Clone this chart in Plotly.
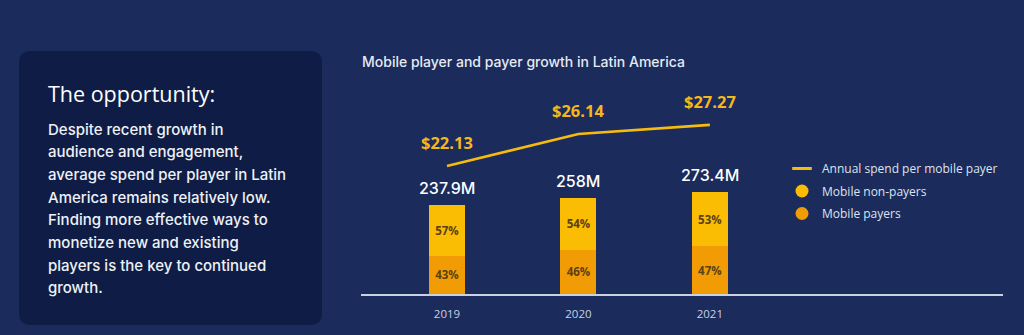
import plotly.graph_objects as go

# --- data -------------------------------------------------------------
years = ["2019", "2020", "2021"]
total_players_m = [237.9, 258.0, 273.4]          # mobile players, millions
non_payer_pct = [57, 54, 53]
payer_pct = [43, 46, 47]
annual_spend = [22.13, 26.14, 27.27]              # USD per mobile payer

title_text = "Mobile player and payer growth in Latin America"
panel_heading = "The opportunity:"
panel_lines = [
    "Despite recent growth in",
    "audience and engagement,",
    "average spend per player in Latin",
    "America remains relatively low.",
    "Finding more effective ways to",
    "monetize new and existing",
    "players is the key to continued",
    "growth.",
]

# --- styling ------------------------------------------------------------
BG = "#1a2b5c"
PANEL = "#0f1d46"
YELLOW = "#fbbc04"
ORANGE = "#f29c05"
LINE = "#f6bb0f"
GOLD_TEXT = "#f4b81c"
PCT_TEXT = "#5a4212"
FONT = "Open Sans"
MEDIUM = "Inter"

W, H = 1024, 335
ML, MR, MT, MB = 361, 21, 60, 41
plot_w = W - ML - MR
plot_h = H - MT - MB

x_pos = list(range(len(years)))
payers = [t * p / 100 for t, p in zip(total_players_m, payer_pct)]
non_payers = [t * p / 100 for t, p in zip(total_players_m, non_payer_pct)]


# helpers for placing things in pixel terms on the paper
def px_x(px):
    return (px - ML) / plot_w


def px_y(py):
    return (H - MB - py) / plot_h


fig = go.Figure()

pct_font = dict(family=FONT, size=11.5, color=PCT_TEXT, weight=700)
fig.add_trace(go.Bar(
    x=x_pos, y=payers, name="Mobile payers", marker=dict(color=ORANGE, line_width=0),
    width=0.274, text=[f"{p}%" for p in payer_pct], textposition="inside",
    insidetextanchor="middle", textangle=0, textfont=pct_font,
    showlegend=False, hoverinfo="skip",
))
fig.add_trace(go.Bar(
    x=x_pos, y=non_payers, name="Mobile non-payers", marker=dict(color=YELLOW, line_width=0),
    width=0.274, text=[f"{p}%" for p in non_payer_pct], textposition="inside",
    insidetextanchor="middle", textangle=0, textfont=pct_font,
    showlegend=False, hoverinfo="skip",
))
fig.add_trace(go.Scatter(
    x=x_pos, y=annual_spend, yaxis="y2", mode="lines",
    line=dict(color=LINE, width=2.6), showlegend=False, hoverinfo="skip",
))

# legend entries
fig.add_trace(go.Scatter(
    x=[None], y=[None], mode="markers", name="Annual spend per mobile payer",
    legendgroup="spend",
    marker=dict(symbol="line-ew-open", size=14, color=LINE, line=dict(color=LINE, width=3)),
))
fig.add_trace(go.Scatter(
    x=[None], y=[None], mode="markers", name="Mobile non-payers",
    legendgroup="nonpayers",
    marker=dict(symbol="circle", size=13, color=YELLOW),
))
fig.add_trace(go.Scatter(
    x=[None], y=[None], mode="markers", name="Mobile payers",
    legendgroup="payers",
    marker=dict(symbol="circle", size=13, color=ORANGE),
))

annotations = []
for i, (tot, sp) in enumerate(zip(total_players_m, annual_spend)):
    annotations.append(dict(
        x=i, y=tot, xref="x", yref="y", text=f"{tot:g}M", showarrow=False,
        yanchor="bottom", yshift=5,
        font=dict(family=MEDIUM, size=16, color="#ffffff", weight=500),
    ))
    annotations.append(dict(
        x=i, y=sp, xref="x", yref="y2", text=f"${sp:.2f}", showarrow=False,
        yanchor="bottom", yshift=10,
        font=dict(family=FONT, size=16.5, color=GOLD_TEXT, weight=700),
    ))

annotations.append(dict(
    x=px_x(360), y=px_y(61), xref="paper", yref="paper", text=title_text,
    showarrow=False, xanchor="left", yanchor="middle",
    font=dict(family=MEDIUM, size=14, color="#e6eaf2", weight=500),
))
annotations.append(dict(
    x=px_x(46), y=px_y(93), xref="paper", yref="paper", text=panel_heading,
    showarrow=False, xanchor="left", yanchor="middle",
    font=dict(family=FONT, size=21.5, color="#ffffff"),
))
for k, line in enumerate(panel_lines):
    annotations.append(dict(
        x=px_x(46), y=px_y(129 + k * 22.7), xref="paper", yref="paper", text=line,
        showarrow=False, xanchor="left", yanchor="middle",
        font=dict(family=MEDIUM, size=15, color="#eef1f6", weight=500),
    ))

# rounded panel behind the description text
x0, x1, y0, y1, r = 19, 322, 51, 325, 12


def P(px, py):
    return f"{px_x(px):.5f},{px_y(py):.5f}"


panel_path = (
    f"M {P(x0 + r, y0)} L {P(x1 - r, y0)} Q {P(x1, y0)} {P(x1, y0 + r)} "
    f"L {P(x1, y1 - r)} Q {P(x1, y1)} {P(x1 - r, y1)} "
    f"L {P(x0 + r, y1)} Q {P(x0, y1)} {P(x0, y1 - r)} "
    f"L {P(x0, y0 + r)} Q {P(x0, y0)} {P(x0 + r, y0)} Z"
)

fig.update_layout(
    width=W, height=H,
    margin=dict(l=ML, r=MR, t=MT, b=MB, pad=0, autoexpand=False),
    paper_bgcolor=BG, plot_bgcolor=BG,
    barmode="stack",
    uniformtext=dict(minsize=11, mode="show"),
    font=dict(family=FONT, color="#e6eaf2"),
    shapes=[dict(type="path", path=panel_path, xref="paper", yref="paper",
                 fillcolor=PANEL, line_width=0, layer="below")],
    annotations=annotations,
    xaxis=dict(
        range=[-0.654, 4.23], tickvals=x_pos, ticktext=years,
        showgrid=False, zeroline=False, showline=True,
        linecolor="#c9d0e0", linewidth=1.5,
        ticks="outside", ticklen=8, tickcolor="rgba(0,0,0,0)",
        tickfont=dict(family=FONT, size=11.5, color="#c9d1e3"),
        fixedrange=True,
    ),
    yaxis=dict(range=[0, plot_h / 0.373], visible=False, fixedrange=True),
    yaxis2=dict(range=[6.13, 6.13 + plot_h / 8.0], overlaying="y",
                visible=False, fixedrange=True),
    legend=dict(
        x=px_x(782), y=px_y(154), xanchor="left", yanchor="top",
        bgcolor="rgba(0,0,0,0)", traceorder="grouped", tracegroupgap=3.5,
        font=dict(family=FONT, size=12, color="#dfe3ee"),
        itemclick=False, itemdoubleclick=False,
    ),
    showlegend=True,
)

fig.write_html("out.html")
